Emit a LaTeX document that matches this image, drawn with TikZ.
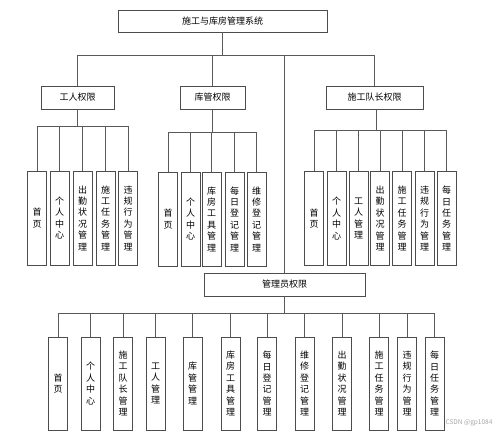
\documentclass[tikz,border=0pt]{standalone}
\usepackage{fontspec}
\setmainfont{Noto Sans CJK SC}

\tikzset{
  box/.style={draw=black!70, line width=0.7pt, inner sep=0pt, fill=white,
              font=\fontsize{9}{11}\selectfont},
  leaf/.style={box, minimum width=19, minimum height=94, align=center,
               font=\fontsize{9}{11.4}\selectfont},
  link/.style={draw=black!65, line width=0.7pt},
}

\begin{document}
\begin{tikzpicture}[x=1pt, y=-1pt]
  \useasboundingbox (0,0) rectangle (500,432);

  % 系统
  \node[box, minimum width=209, minimum height=22] (sys) at (222.5,21) {施工与库房管理系统};

  % 三个角色
  \node[box, minimum width=73, minimum height=23] (gr) at (77.5,97.5) {工人权限};
  \node[box, minimum width=65, minimum height=23] (kg) at (212.5,97.5) {库管权限};
  \node[box, minimum width=97, minimum height=23] (dz) at (374.5,97.5) {施工队长权限};
  \node[box, minimum width=161, minimum height=23] (gly) at (284.5,284.5) {管理员权限};

  % 工人权限
  \node[leaf] (gr1) at (37,218) {首\\页};
  \node[leaf] (gr2) at (59.5,218) {个\\人\\中\\心};
  \node[leaf] (gr3) at (82.5,218) {出\\勤\\状\\况\\管\\理};
  \node[leaf] (gr4) at (105.5,218) {施\\工\\任\\务\\管\\理};
  \node[leaf] (gr5) at (128,218) {违\\规\\行\\为\\管\\理};

  % 库管权限
  \node[leaf] (kg1) at (168,219) {首\\页};
  \node[leaf] (kg2) at (190.5,219) {个\\人\\中\\心};
  \node[leaf] (kg3) at (211.5,219) {库\\房\\工\\具\\管\\理};
  \node[leaf] (kg4) at (234.5,219) {每\\日\\登\\记\\管\\理};
  \node[leaf] (kg5) at (256.5,219) {维\\修\\登\\记\\管\\理};

  % 施工队长权限
  \node[leaf] (dz1) at (314,218.5) {首\\页};
  \node[leaf] (dz2) at (336.5,218.5) {个\\人\\中\\心};
  \node[leaf] (dz3) at (358.5,218.5) {工\\人\\管\\理};
  \node[leaf] (dz4) at (380,218.5) {出\\勤\\状\\况\\管\\理};
  \node[leaf] (dz5) at (402,218.5) {施\\工\\任\\务\\管\\理};
  \node[leaf] (dz6) at (424.5,218.5) {违\\规\\行\\为\\管\\理};
  \node[leaf] (dz7) at (446.5,218.5) {每\\日\\任\\务\\管\\理};

  % 管理员权限
  \node[leaf, minimum height=93] (gly1) at (58,383.5) {首\\页};
  \node[leaf, minimum height=93] (gly2) at (90.5,383.5) {个\\人\\中\\心};
  \node[leaf, minimum height=93] (gly3) at (123,383.5) {施\\工\\队\\长\\管\\理};
  \node[leaf, minimum height=93] (gly4) at (155.5,383.5) {工\\人\\管\\理};
  \node[leaf, minimum height=93] (gly5) at (192.5,383.5) {库\\管\\管\\理};
  \node[leaf, minimum height=93] (gly6) at (230.5,383.5) {库\\房\\工\\具\\管\\理};
  \node[leaf, minimum height=93] (gly7) at (267,383.5) {每\\日\\登\\记\\管\\理};
  \node[leaf, minimum height=93] (gly8) at (304.5,383.5) {维\\修\\登\\记\\管\\理};
  \node[leaf, minimum height=93] (gly9) at (342,383.5) {出\\勤\\状\\况\\管\\理};
  \node[leaf, minimum height=93] (gly10) at (379,383.5) {施\\工\\任\\务\\管\\理};
  \node[leaf, minimum height=93] (gly11) at (407,383.5) {违\\规\\行\\为\\管\\理};
  \node[leaf, minimum height=93] (gly12) at (434.5,383.5) {每\\日\\任\\务\\管\\理};

  % 分支点
  \coordinate (sysbar) at (222.5,55);
  \path (gr.south) ++(0,17) coordinate (grbar);
  \path (kg.south) ++(0,23) coordinate (kgbar);
  \path (dz.south) ++(1.5,21) coordinate (dzbar);
  \path (gly.south) ++(0,17) coordinate (glybar);

  % 连线
  \draw[link] (sys.south) -- (sysbar);
  \draw[link] (gr.north) |- (sysbar) (kg.north) |- (sysbar)
              (dz.north) |- (sysbar) (gly.north) |- (sysbar);

  \draw[link] (gr.south) -- (grbar);
  \draw[link] (gr1.north) |- (grbar) (gr2.north) |- (grbar) (gr3.north) |- (grbar)
              (gr4.north) |- (grbar) (gr5.north) |- (grbar);

  \draw[link] (kg.south) -- (kgbar);
  \draw[link] (kg1.north) |- (kgbar) (kg2.north) |- (kgbar) (kg3.north) |- (kgbar)
              (kg4.north) |- (kgbar) (kg5.north) |- (kgbar);

  \draw[link] (dz.south -| dzbar) -- (dzbar);
  \draw[link] (dz1.north) |- (dzbar) (dz2.north) |- (dzbar) (dz3.north) |- (dzbar)
              (dz4.north) |- (dzbar) (dz5.north) |- (dzbar) (dz6.north) |- (dzbar)
              (dz7.north) |- (dzbar);

  \draw[link] (gly.south) -- (glybar);
  \draw[link] (gly1.north) |- (glybar) (gly2.north) |- (glybar) (gly3.north) |- (glybar)
              (gly4.north) |- (glybar) (gly5.north) |- (glybar) (gly6.north) |- (glybar)
              (gly7.north) |- (glybar) (gly8.north) |- (glybar) (gly9.north) |- (glybar)
              (gly10.north) |- (glybar) (gly11.north) |- (glybar) (gly12.north) |- (glybar);

  % 水印
  \node[text=black!35, font=\fontsize{6.5}{7}\selectfont] (wm) at (469,423) {CSDN @gp1084};
\end{tikzpicture}
\end{document}
